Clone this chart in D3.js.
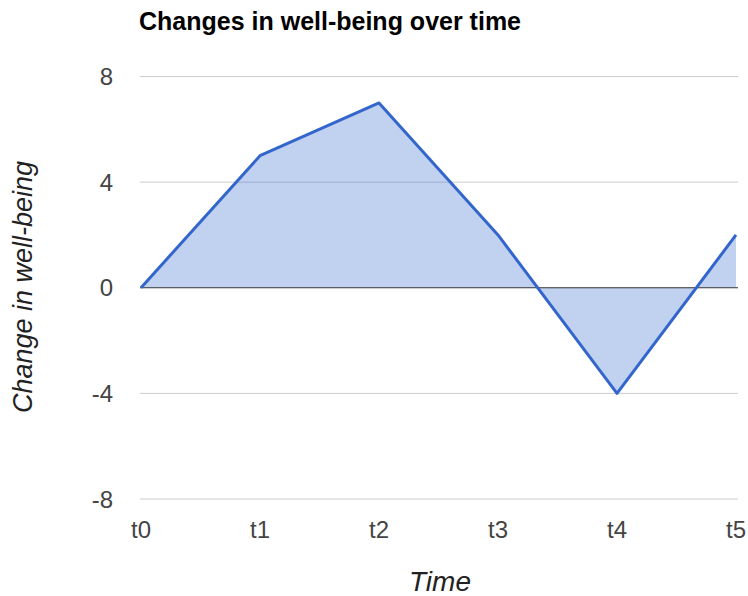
<!DOCTYPE html>
<html>
<head>
<meta charset="utf-8">
<script src="https://cdn.jsdelivr.net/npm/d3@7"></script>
<style>
  html, body { margin: 0; padding: 0; background: #fff; }
  svg { display: block; font-family: "Liberation Sans", Arial, sans-serif; }
</style>
</head>
<body>
<svg id="chart" width="748" height="596"></svg>
<script>
// Well-being change per time point
const categories = ["t0", "t1", "t2", "t3", "t4", "t5"];
const values = [0, 5, 7, 2, -4, 2];
const yTicks = [-8, -4, 0, 4, 8];

const svg = d3.select("#chart");
const plot = { left: 141, right: 736, top: 76.5, bottom: 499 };

const x = d3.scalePoint().domain(categories).range([plot.left, plot.right]);
const y = d3.scaleLinear().domain([-8, 8]).range([plot.bottom, plot.top]);

// Gridlines
svg.append("g").selectAll("line").data(yTicks.filter(d => d !== 0)).join("line")
  .attr("x1", plot.left - 1).attr("x2", plot.right + 2)
  .attr("y1", d => y(d)).attr("y2", d => y(d))
  .attr("stroke", "#cccccc").attr("stroke-width", 1);

// Area
const area = d3.area()
  .x((d, i) => x(categories[i]))
  .y0(y(0))
  .y1(d => y(d));
svg.append("path").datum(values)
  .attr("d", area)
  .attr("fill", "#3366cc").attr("fill-opacity", 0.3);

// Baseline at zero
svg.append("line")
  .attr("x1", plot.left - 1).attr("x2", plot.right + 2)
  .attr("y1", y(0)).attr("y2", y(0))
  .attr("stroke", "#333333").attr("stroke-width", 1);

// Line
const line = d3.line()
  .x((d, i) => x(categories[i]))
  .y(d => y(d));
svg.append("path").datum(values)
  .attr("d", line)
  .attr("fill", "none").attr("stroke", "#3366cc").attr("stroke-width", 3)
  .attr("stroke-linejoin", "round");

// Y tick labels
svg.append("g").selectAll("text").data(yTicks).join("text")
  .attr("x", 113).attr("y", d => y(d) + 8.5)
  .attr("text-anchor", "end")
  .attr("font-size", 24).attr("fill", "#444444")
  .text(d => d);

// X tick labels
svg.append("g").selectAll("text").data(categories).join("text")
  .attr("x", d => x(d)).attr("y", 538)
  .attr("text-anchor", "middle")
  .attr("font-size", 24).attr("fill", "#444444")
  .text(d => d);

// Title
svg.append("text")
  .attr("x", 139).attr("y", 30)
  .attr("font-size", 25).attr("font-weight", "bold").attr("fill", "#000")
  .text("Changes in well-being over time");

// Axis titles
svg.append("text")
  .attr("x", 440).attr("y", 591)
  .attr("text-anchor", "middle")
  .attr("font-size", 28).attr("font-style", "italic").attr("fill", "#222")
  .text("Time");

svg.append("text")
  .attr("transform", `translate(32, 287) rotate(-90)`)
  .attr("text-anchor", "middle")
  .attr("font-size", 27).attr("font-style", "italic").attr("fill", "#222")
  .text("Change in well-being");
</script>
</body>
</html>
